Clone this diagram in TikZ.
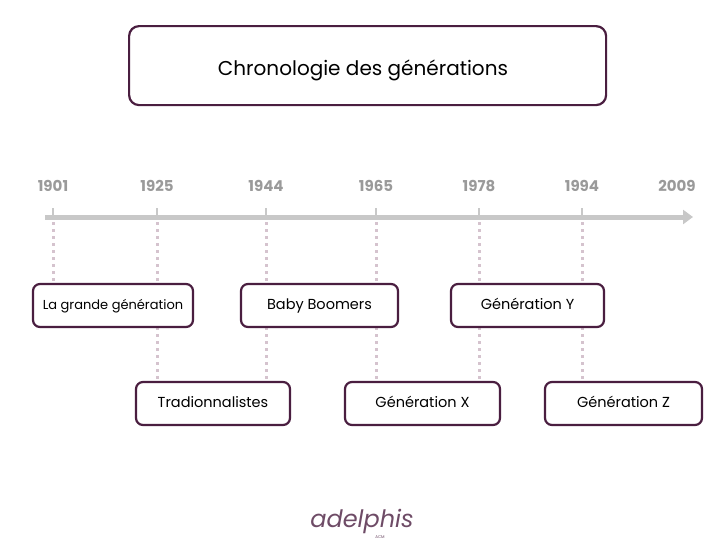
\documentclass[tikz,border=0pt]{standalone}
\usepackage{fontspec}
\setmainfont{Poppins}
\usetikzlibrary{arrows.meta}
\definecolor{bord}{HTML}{4A1E40}
\definecolor{yr}{HTML}{9A9A9A}
\definecolor{ax}{HTML}{C8C8C8}
\definecolor{dot}{HTML}{D5C3CE}
\tikzset{
 gen/.style={draw=bord,line width=2.2pt,rounded corners=7pt,minimum height=43pt,font=\fontsize{14.5}{16}\selectfont,inner sep=0pt,text height=10pt,text depth=3pt},
 year/.style={text=yr,font=\bfseries\fontsize{15}{16}\selectfont},
 dotl/.style={draw=dot,line width=3pt,dash pattern=on 3pt off 4pt}
}
\begin{document}
\begin{tikzpicture}[x=1pt,y=-1pt]
\useasboundingbox[fill=white] (0,0) rectangle (728,546);
\node[draw=bord,line width=2.2pt,rounded corners=10pt,minimum width=477pt,minimum height=79pt,anchor=north west,inner sep=0pt] (title) at (128,25) {};
\node[font=\fontsize{20}{22}\selectfont] (tt) at (363,70) {Chronologie des générations};
\coordinate (a0) at (45,217); \coordinate (a1) at (693,217);
\foreach \x/\y/\n in {53/1901/t1,157/1925/t2,266/1944/t3,376/1965/t4,479/1978/t5,582/1994/t6}{
  \node[year] (y\n) at (\x,186) {\y};
  \coordinate (\n) at (\x,208);
}
\node[year] (y2009) at (677,186) {2009};
\draw[dotl] (53,222) -- (53,284);
\foreach \x in {157,266,376,479,582} \draw[dotl] (\x,222) -- (\x,382);
\foreach \n in {t1,t2,t3,t4,t5,t6} \draw[ax,line width=2pt] (\n) -- ++(0,10);
\draw[ax,line width=5pt,-{Triangle[length=10pt,width=14pt]}] (a0) -- (a1);
\node[gen,fill=white,minimum width=160pt,font=\fontsize{13}{15}\selectfont] (lg) at (113,305.5) {La grande génération};
\node[gen,fill=white,minimum width=157pt] (bb) at (319.5,305.5) {Baby Boomers};
\node[gen,fill=white,minimum width=153pt] (gy) at (527.5,305.5) {Génération Y};
\node[gen,fill=white,minimum width=154pt] (tr) at (213,403.5) {Tradionnalistes};
\node[gen,fill=white,minimum width=155pt] (gx) at (422.5,403.5) {Génération X};
\node[gen,fill=white,minimum width=157pt] (gz) at (623.5,403.5) {Génération Z};
\node[text=bord!80,font=\itshape\fontsize{24}{26}\selectfont] (logo) at (362,521) {adelphis};
\node[text=bord!80,font=\fontsize{4}{5}\selectfont] (acm) at (380,537) {ACM};
\end{tikzpicture}
\end{document}
